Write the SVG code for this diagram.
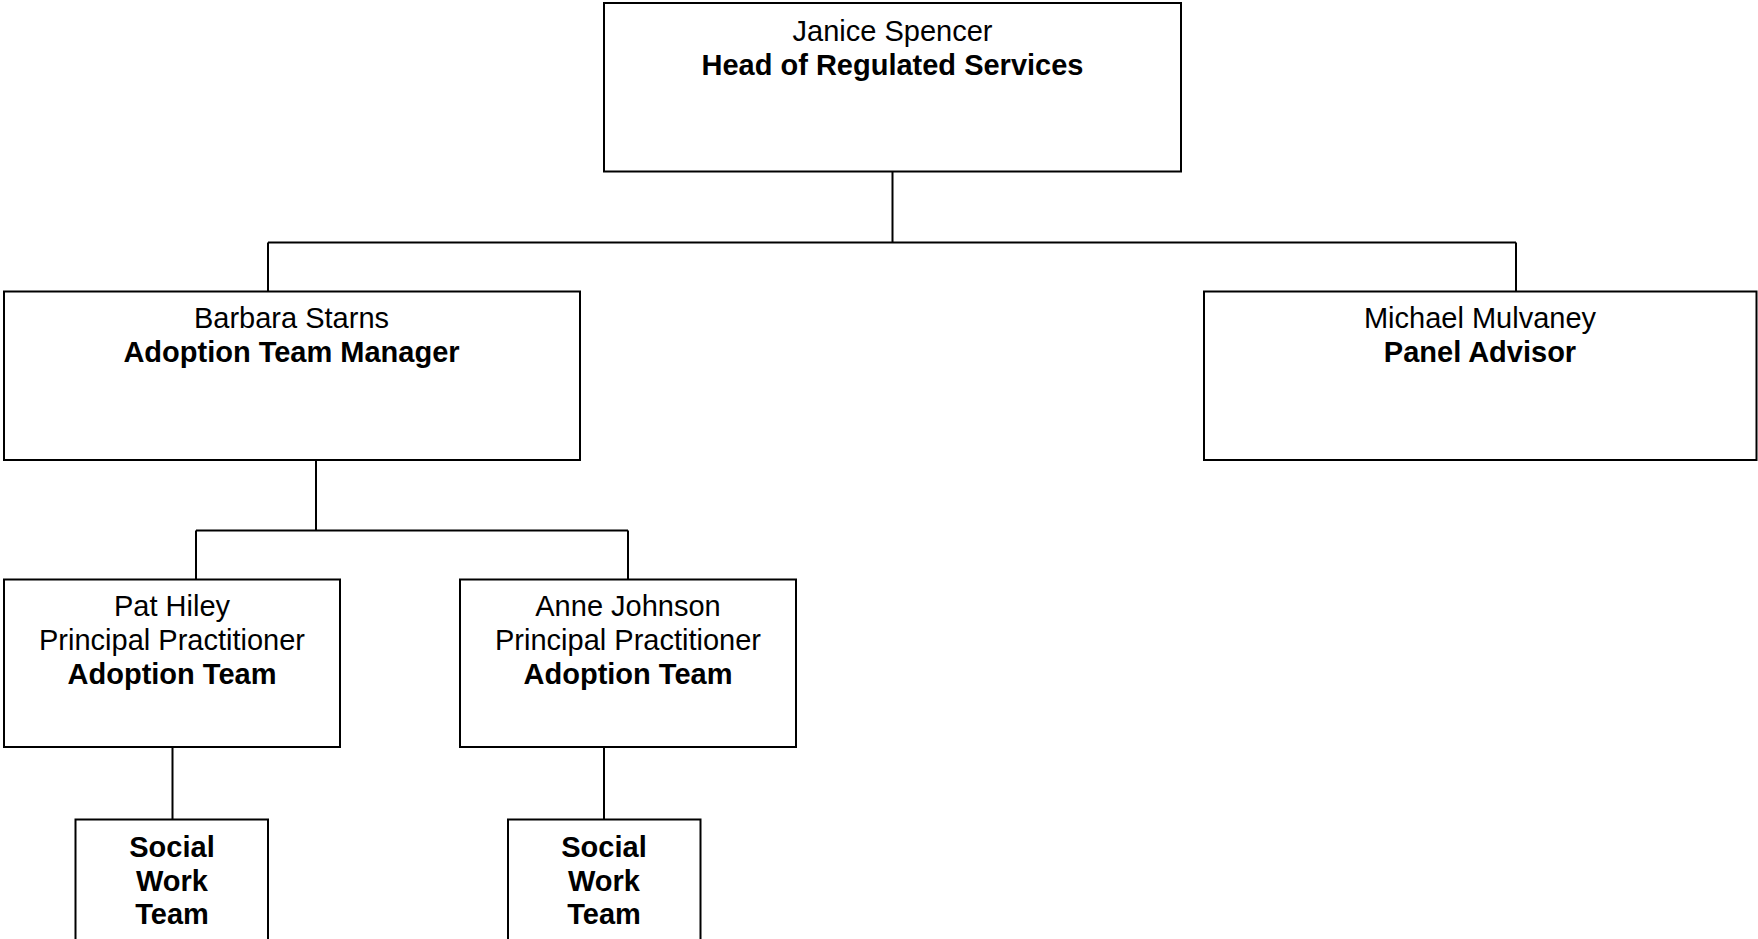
<svg xmlns="http://www.w3.org/2000/svg" width="1758" height="939" viewBox="0 0 1758 939">
<style>
.box{fill:#fff;stroke:#000;stroke-width:2}
.ln{fill:none;stroke:#000;stroke-width:2}
text{font-family:"Liberation Sans",Arial,sans-serif;font-size:29px;fill:#000;text-anchor:middle}
.b{font-weight:bold}
</style>
<rect width="1758" height="939" fill="#fff"/>
<g id="connectors">
<path class="ln" d="M892.5 171.5V242.5M268 242.5H1516M268 242.5V291.5M1516 242.5V291.5"/>
<path class="ln" d="M316 460V530.5M196 530.5H628M196 530.5V579.5M628 530.5V579.5"/>
<path class="ln" d="M172.5 747V819.5M604 747V819.5"/>
</g>
<g id="janice">
<rect class="box" x="604" y="3" width="577" height="168.5"/>
<text x="892.5" y="41">Janice Spencer</text>
<text class="b" x="892.5" y="75">Head of Regulated Services</text>
</g>
<g id="barbara">
<rect class="box" x="4" y="291.5" width="576" height="168.5"/>
<text x="291.5" y="328">Barbara Starns</text>
<text class="b" x="291.5" y="362">Adoption Team Manager</text>
</g>
<g id="michael">
<rect class="box" x="1204" y="291.5" width="552.5" height="168.5"/>
<text x="1480" y="328">Michael Mulvaney</text>
<text class="b" x="1480" y="362">Panel Advisor</text>
</g>
<g id="pat">
<rect class="box" x="4" y="579.5" width="336" height="167.5"/>
<text x="172" y="616">Pat Hiley</text>
<text x="172" y="650">Principal Practitioner</text>
<text class="b" x="172" y="684">Adoption Team</text>
</g>
<g id="anne">
<rect class="box" x="460" y="579.5" width="336" height="167.5"/>
<text x="628" y="616">Anne Johnson</text>
<text x="628" y="650">Principal Practitioner</text>
<text class="b" x="628" y="684">Adoption Team</text>
</g>
<g id="social1">
<rect class="box" x="75.5" y="819.5" width="192.5" height="130"/>
<text class="b" x="172" y="857">Social</text>
<text class="b" x="172" y="891">Work</text>
<text class="b" x="172" y="924">Team</text>
</g>
<g id="social2">
<rect class="box" x="508" y="819.5" width="192.5" height="130"/>
<text class="b" x="604" y="857">Social</text>
<text class="b" x="604" y="891">Work</text>
<text class="b" x="604" y="924">Team</text>
</g>
</svg>
